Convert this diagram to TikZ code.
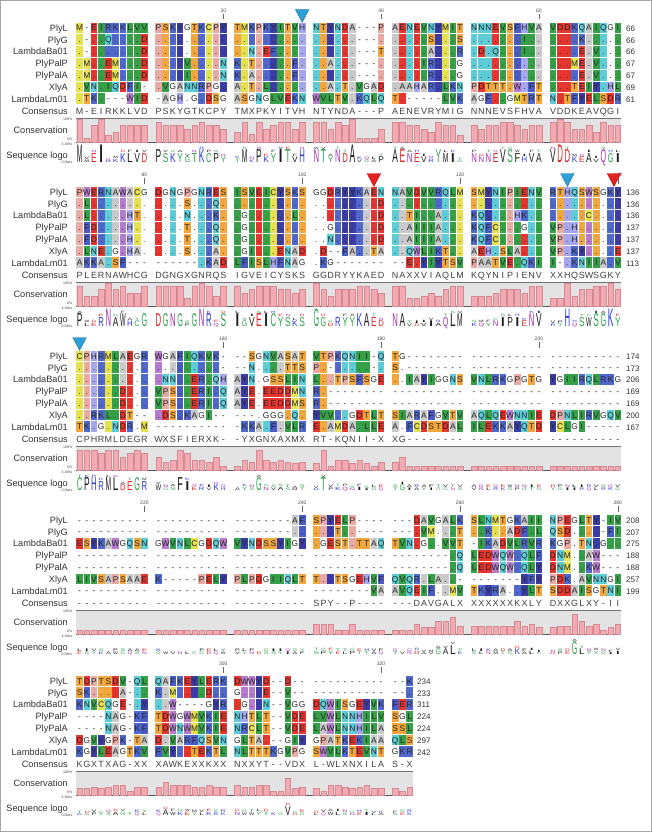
\documentclass[tikz,border=0pt]{standalone}
\usepackage{fontspec}
\setmainfont{Liberation Sans}
\usepackage{graphicx}
% residue cell colours
\definecolor{rA}{HTML}{C9C9C9}
\definecolor{rC}{HTML}{E4E04E}
\definecolor{rD}{HTML}{E5352F}
\colorlet{rE}{rD}
\definecolor{rF}{HTML}{4A5BC4}
\definecolor{rG}{HTML}{FFFFFF}
\definecolor{rH}{HTML}{A6A6EE}
\definecolor{rI}{HTML}{35A048}
\definecolor{rK}{HTML}{5068CC}
\colorlet{rL}{rI}
\colorlet{rM}{rC}
\definecolor{rN}{HTML}{5ECCD6}
\definecolor{rP}{HTML}{E8AAA2}
\colorlet{rQ}{rN}
\colorlet{rR}{rK}
\definecolor{rS}{HTML}{F2A63E}
\colorlet{rT}{rS}
\colorlet{rV}{rI}
\definecolor{rW}{HTML}{B67ACF}
\definecolor{rY}{HTML}{3B3CA6}
\colorlet{rX}{white}\colorlet{rB}{white}\colorlet{rZ}{white}
% logo colours
\definecolor{lgK}{HTML}{1C1C1C}
\definecolor{lgG}{HTML}{2FA24E}
\definecolor{lgB}{HTML}{2A3AD6}
\definecolor{lgR}{HTML}{DD2222}
\definecolor{lgP}{HTML}{A531AE}
\colorlet{lA}{lgK}\colorlet{lV}{lgK}\colorlet{lL}{lgK}\colorlet{lI}{lgK}
\colorlet{lM}{lgK}\colorlet{lP}{lgK}\colorlet{lF}{lgK}\colorlet{lW}{lgK}
\colorlet{lG}{lgG}\colorlet{lS}{lgG}\colorlet{lT}{lgG}\colorlet{lY}{lgG}\colorlet{lC}{lgG}
\colorlet{lN}{lgP}\colorlet{lQ}{lgP}
\colorlet{lK}{lgB}\colorlet{lR}{lgB}\colorlet{lH}{lgB}
\colorlet{lD}{lgR}\colorlet{lE}{lgR}\colorlet{lX}{lgK}
\definecolor{barfill}{HTML}{F3AAB2}
\definecolor{barline}{HTML}{D58A92}
\definecolor{consbg}{HTML}{E3E3E3}
\definecolor{triblue}{HTML}{2E9FD8}
\definecolor{trired}{HTML}{E32222}

\newcount\mycnt
\def\dotch{.}\def\gapch{-}\def\Xch{X}
\makeatletter
\def\setrow#1#2#3{\def\sr@b{#1}\def\sr@r{#2}\global\mycnt=0\relax\sr@parse#3\relax}
\def\sr@parse#1{\ifx#1\relax\else\global\advance\mycnt by 1\relax
  \expandafter\gdef\csname s/\sr@b/\sr@r/\the\mycnt\endcsname{#1}\expandafter\sr@parse\fi}
\makeatother

% ---------- block 1 ----------
\setrow{1}{1}{M-EIRKKLVV PSKYGTKCPY TMKPKYITVH NTYNDA---P AENEVNYMIT NNNEVSFHVA VDDKQAIQGI}
\setrow{1}{2}{.-..Q....D .......... .......... ......---. .....S...S .......I.. ....K.....}
\setrow{1}{3}{.-.......D .......... ..N.EF.... ......---T .....A...R .D.Q...I.. ....E.V...}
\setrow{1}{4}{.M..EM...D ....V....N K.T.....F. ..A...---. ....IR...G .......... ...ME.V...}
\setrow{1}{5}{.M..EM...D ....I....N K.A.....F. ......---. .....R...G .......... ....E.V...}
\setrow{1}{6}{.VN.IQDFI- .VGANNRPG. A.T.L..... ..A.T.VGAD .AAHAR.LKN PDTTT.W.FT ...TEIY.HL}
\setrow{1}{7}{.TK.---WID -AGH.G.DSG ASGNGLVEKN WVLTV.KQLQ T.-----LVK AGF..GMTRT N.TFYELSDR}
\setrow{1}{8}{M-EIRKKLVD PSKYGTKCPY TMXPKYITVH NTYNDA---P AENEVRYMIG NNNEVSFHVA VDDKEAVQGI}
% ---------- block 2 ----------
\setrow{2}{1}{PWERNAWACG DGNGPGNRES ISVEICYSKS GGDRYYKAEN NAVDVVRQLM SMYNIPIENV RTHQSWSGKY}
\setrow{2}{2}{.L........ ....S...Q. .......... .........D .......... .......... ..........}
\setrow{2}{3}{.L.....HT. ....N...K. .G......L. .........D ..TI..A... KQ....HK.. .....C....}
\setrow{2}{4}{.FD....H.. ....T...Q. .G........ ..G......D ..AIIIA... KQFC...G.. VP.H......}
\setrow{2}{5}{.FD....H.. ....T...Q. .G........ ..N......D ..AIIIA... KQFC...... VP.H......}
\setrow{2}{6}{.LNE.G.HA. ....S...A. .GI...ENAD .D--FA..TA ..QWLIKT.. AEH.SLA... VP.KY....E}
\setrow{2}{7}{AKKA.SF--- ------.KAD LFISLHFNAG .KG------- --E.YIYTSV PAATVE.QKI I-.KNIIA.V}
\setrow{2}{8}{PLERNAWHCG DGNGXGNRQS IGVEICYSKS GGDRYYKAED NAXXVIAQLM KQYNIPIENV XXHQSWSGKY}
% ---------- block 3 ----------
\setrow{3}{1}{CPHRMLAEGR WGAFIQKVK- --SGNVASAT VTPKQNII-Q TG-------- ---------- ----------}
\setrow{3}{2}{.......... .........- --N....TTS P.-.....-. S.-------- ---------- ----------}
\setrow{3}{3}{.......... .NN..ER.QH AYN.GSSLIN L..TPSFSGE ..IAYIGGNS VNLRKGPGTG YGIIRQLRKG}
\setrow{3}{4}{......D... VPS..ERI.Q AYE.EEDDMN R.-------- ---------- ---------- ----------}
\setrow{3}{5}{......D... VPS..ERI.Q AYE.EEDDMS R.-------- ---------- ---------- ----------}
\setrow{3}{6}{..RKL.DT-- .DS.KAGI-- ---.GGG.Q. YVV..GDTLT SIARAFGVTV AQLQEWNNIE DPNLIRVGQV}
\setrow{3}{7}{TK.G.NDR.M ---------- -KKA.F.VLR E.AMDA.LLE A.FCDSTDAL ILEKKAYQTD YCLGI-----}
\setrow{3}{8}{CPHRMLDEGR WXSFIERXK- -YXGNXAXMX RT-KQNII-X XG-------- ---------- ----------}
% ---------- block 4 ----------
\setrow{4}{1}{---------- ---------- --------AF SPYELP---- ---DAVGALK SLNMTGKAII NPEGLTY-IV}
\setrow{4}{2}{---------- ---------- --------.. ...T..---- ---.VM...T ..K..ADF.L QSD....-FI}
\setrow{4}{3}{ESYKAWGQSN GWVNLCGDQW VYNDSSYIGY .GEST.TTAQ TVN.G..VVT -IKADVLRVR KGP.TN.G..}
\setrow{4}{4}{---------- ---------- ---------- ---------- --------.Q LEDWQW.QLF DNM..AW---}
\setrow{4}{5}{---------- ---------- ---------- ---------- --------.Q LEDWQW.QLY DNM..KW---}
\setrow{4}{6}{LIVSAPSAAE K-----PELY PLPDGIIQLT T..TSGEHVF QVQR.LA..- -------YFY PDK.AVNNGI}
\setrow{4}{7}{---------- ---------- ---------- --------VA AVQEIF..MV TKYRA..YLT SDDAISGTNI}
\setrow{4}{8}{---------- ---------- ---------- SPY--P---- ---DAVGALX XXXXXXKXLY DXXGLXY-II}
% ---------- block 5 ----------
\setrow{5}{1}{TDPTSDV-QL QAFKEYLERK DWWYD--D-- ---------- --K}
\setrow{5}{2}{SK....A-.. K.M....D.. G...E--V-- ---------- --.}
\setrow{5}{3}{KNVCQGE-.Y ..W----GYR .G..N--VGG DQWISGEYVK FER}
\setrow{5}{4}{----NAG-KF TDWGWMVKIE NHTLT--VDE LVWLNNHILV SGL}
\setrow{5}{5}{----NAG-KF TDWNWMVKIE NRCLT--VDE LAWLNNHILA SSL}
\setrow{5}{6}{DGVYGPK-TA D.VARFQSVN GLTA.--GIY GPATKEKIAA QLS}
\setrow{5}{7}{KGYLEAGTKV FVY..TEKTL NLTTTKGVPG SWVLKTEVNT GKR}
\setrow{5}{8}{KGXTXAG-XX XAWKEXXKXX NXXYT--VDX L-WLXNXILA S-X}

\tikzset{
 rs/.style={font=\fontsize{8.4}{8}\selectfont, inner sep=0pt, anchor=base, text=black!85},
 cs/.style={font=\fontsize{9}{9}\selectfont, inner sep=0pt, anchor=base, text=black!75},
 lab/.style={font=\fontsize{9.2}{10}\selectfont, inner sep=0pt, anchor=base east, text=black!80},
 tinylab/.style={font=\fontsize{3.6}{4}\selectfont, inner sep=0pt, anchor=east, text=black!70},
 numlab/.style={font=\fontsize{8}{9}\selectfont, inner sep=0pt, anchor=base west, text=black!80},
 rul/.style={font=\fontsize{5}{5}\selectfont, inner sep=0pt, anchor=base, text=black!70},
 lg/.style={inner sep=0pt, anchor=base},
 barc/.style={fill=barfill, draw=barline, line width=0.4pt},
}

% static parts of a block: #1 Y, #2 right end of conservation box
\newcommand\blockbase[2]{%
  \fill[consbg] (76,#1+90) rectangle (#2,#1+114);
  \draw[black!55, line width=0.7pt] (76,#1+90) -- (#2,#1+90);
  \draw[black!65, line width=1pt] (76,#1+114) -- (#2,#1+114);
  \node[lab] (nPlyL) at (68,#1+3.3) {PlyL};
  \node[lab] (nPlyG) at (68,#1+15.1) {PlyG};
  \node[lab] (nBa) at (68,#1+26.9) {LambdaBa01};
  \node[lab] (nPalP) at (68,#1+38.7) {PlyPalP};
  \node[lab] (nPalA) at (68,#1+50.5) {PlyPalA};
  \node[lab] (nXly) at (68,#1+62.3) {XlyA};
  \node[lab] (nLm) at (68,#1+74.1) {LambdaLm01};
  \node[lab] (nCons) at (68,#1+86.3) {Consensus};
  \node[lab] (nConsv) at (68,#1+105.3) {Conservation};
  \node[lab] (nLogo) at (68,#1+130.3) {Sequence logo};
  \node[tinylab] at (72.5,#1+90.8) {100\%};
  \node[tinylab] at (72.5,#1+111) {0\%};
  \node[tinylab] at (72.5,#1+116) {4.3bits};
  \node[tinylab] at (72.5,#1+134) {0.0bits};
}
% row end numbers: #1 Y, #2 x, #3..#9 values
\newcommand\rownums[9]{%
  \node[numlab] at (#2,#1+3.3) {#3};
  \node[numlab] at (#2,#1+15.1) {#4};
  \node[numlab] at (#2,#1+26.9) {#5};
  \node[numlab] at (#2,#1+38.7) {#6};
  \node[numlab] at (#2,#1+50.5) {#7};
  \node[numlab] at (#2,#1+62.3) {#8};
  \node[numlab] at (#2,#1+74.1) {#9};
}
% ruler mark: #1 Y, #2 local column, #3 label
\newcommand\rulemark[3]{%
  \pgfmathsetmacro\rx{76+78.9*int((#2-1)/10)+7.2*mod(#2-1,10)+3.6}%
  \node[rul] at (\rx,#1-15.5) {#3};
  \draw[black!60, line width=0.5pt] (\rx,#1-14) -- (\rx,#1-8.5);
}
% triangle marker: #1 Y, #2 x, #3 colour
\newcommand\trimark[3]{%
  \filldraw[fill=#3, draw=#3!75!black, line width=0.4pt]
    (#2-6.8,#1-18.5) -- (#2+6.8,#1-18.5) -- (#2,#1-5.5) -- cycle;
}
\newcommand\colx[1]{\pgfmathsetmacro\cx{76+78.9*int((#1-1)/10)+7.2*mod(#1-1,10)+3.6}}

% alignment columns: #1 block id, #2 Y, #3 number of columns
\newcommand\drawblock[3]{%
\foreach \icol in {1,...,#3}{%
 \pgfmathsetmacro\xl{76+78.9*int((\icol-1)/10)+7.2*mod(\icol-1,10)}%
 \pgfmathsetmacro\xc{\xl+3.6}%
 \global\mycnt=0\relax
 \global\let\myalt\relax\global\let\myaltb\relax
 \expandafter\let\expandafter\consch\csname s/#1/8/\icol\endcsname
 \expandafter\let\expandafter\refch\csname s/#1/1/\icol\endcsname
 \foreach \irow in {1,...,7}{%
  \expandafter\let\expandafter\mych\csname s/#1/\irow/\icol\endcsname
  \ifx\mych\dotch\let\myres\refch\else\let\myres\mych\fi
  \pgfmathsetmacro\yy{#2+11.8*(\irow-1)}%
  \ifx\myres\gapch\else
   \fill[fill=r\myres] (\xl+0.3,\yy-5.35) rectangle ++(6.6,10.7);%
   \ifx\myres\consch\global\advance\mycnt by 1\relax\else
    \ifx\myalt\relax\global\let\myalt\myres\else
     \ifx\myres\myalt\else\ifx\myaltb\relax\global\let\myaltb\myres\fi\fi
    \fi
   \fi
  \fi
  \node[rs] at (\xc,\yy+3.0) {\mych};%
 }%
 \node[cs] at (\xc,#2+86.2) {\consch};%
 \ifx\consch\gapch\def\bfrac{0.15}\def\islow{1}\else
  \ifx\consch\Xch\def\bfrac{0.33}\def\islow{1}\else
   \pgfmathsetmacro\bfrac{\the\mycnt/7}\def\islow{0}\fi\fi
 \pgfmathsetmacro\mybh{max(1.5,23*\bfrac)}%
 \filldraw[barc] (\xl+0.8,#2+114) rectangle (\xl+6.4,#2+114-\mybh);%
 \ifnum\islow=1\relax
  \ifx\myalt\relax\else
   \node[lg] at (\xc,#2+134.5) {\resizebox{4.8pt}{2.6pt}{\textcolor{l\myalt}{\myalt}}};\fi
  \ifx\myaltb\relax\else
   \node[lg] at (\xc,#2+131.4) {\resizebox{4.8pt}{2.6pt}{\textcolor{l\myaltb}{\myaltb}}};\fi
 \else
  \pgfmathsetmacro\mylh{max(1.8,17.5*(\the\mycnt/7)^2)}%
  \node[lg] at (\xc,#2+134.5) {\resizebox{5.6pt}{\mylh pt}{\textcolor{l\consch}{\consch}}};%
  \ifx\myalt\relax\else
   \node[lg] at (\xc,#2+134.5-\mylh-0.6) {\resizebox{4.6pt}{2.2pt}{\textcolor{l\myalt}{\myalt}}};\fi
 \fi
}}

\begin{document}
\begin{tikzpicture}[x=1pt,y=-1pt]
\useasboundingbox (0,0) rectangle (652,832);
\fill[white] (0,0) rectangle (652,832);

% block 1
\blockbase{28}{621.4}
\drawblock{1}{28}{70}
\rownums{28}{626}{66}{66}{66}{67}{67}{69}{61}
\rulemark{28}{20}{20}\rulemark{28}{40}{40}\rulemark{28}{60}{60}
\colx{30}\trimark{28}{\cx}{triblue}

% block 2
\blockbase{192}{621.4}
\drawblock{2}{192}{70}
\rownums{192}{626}{136}{136}{136}{137}{137}{137}{113}
\rulemark{192}{10}{80}\rulemark{192}{30}{100}\rulemark{192}{50}{120}\rulemark{192}{70}{140}
\colx{39}\trimark{192}{\cx}{trired}
\colx{63}\trimark{192}{\cx}{triblue}
\trimark{192}{614}{trired}

% block 3
\blockbase{356}{621.4}
\drawblock{3}{356}{70}
\rownums{356}{626}{174}{173}{206}{169}{169}{200}{167}
\rulemark{356}{20}{160}\rulemark{356}{40}{180}\rulemark{356}{60}{200}
\colx{1}\trimark{356}{\cx}{triblue}

% block 4
\blockbase{520}{621.4}
\drawblock{4}{520}{70}
\rownums{520}{626}{208}{207}{275}{188}{188}{257}{199}
\rulemark{520}{10}{220}\rulemark{520}{30}{240}\rulemark{520}{50}{260}\rulemark{520}{70}{280}

% block 5
\blockbase{681}{413.2}
\drawblock{5}{681}{43}
\rownums{681}{417}{234}{233}{311}{224}{224}{297}{242}
\rulemark{681}{20}{300}\rulemark{681}{40}{320}

\draw[black!35, line width=0.8pt] (0.6,0.6) rectangle (651.4,831.4);
\end{tikzpicture}
\end{document}
